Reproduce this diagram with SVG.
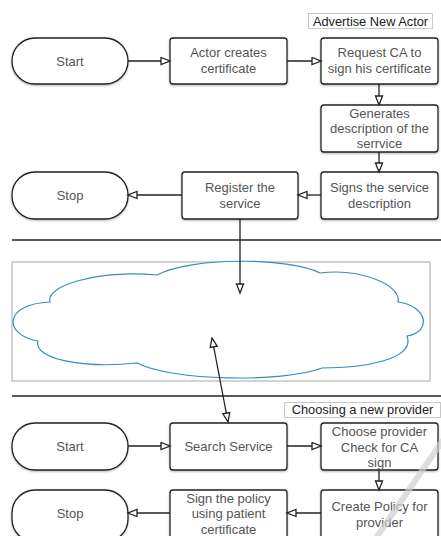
<svg xmlns="http://www.w3.org/2000/svg" width="441" height="536" viewBox="0 0 441 536">
<style>
.box{fill:#fff;stroke:#222;stroke-width:1.3;filter:url(#sh)}
.t{font-family:"Liberation Sans",Arial,sans-serif;font-size:13px;fill:#555;text-anchor:middle}
.lbl{font-family:"Liberation Sans",Arial,sans-serif;font-size:12.8px;fill:#222;text-anchor:middle}
.lblbox{fill:#fff;stroke:#c8c8c8;stroke-width:1}
.c{fill:none;stroke:#222;stroke-width:1.3}
.sep{stroke:#222;stroke-width:1.5}
</style>
<defs>
<filter id="sh" x="-10%" y="-10%" width="120%" height="130%">
<feDropShadow dx="0" dy="1" stdDeviation="1.2" flood-color="#000" flood-opacity="0.3"/>
</filter>
<marker id="ah" markerWidth="12" markerHeight="10" refX="10" refY="4.5" orient="auto" markerUnits="userSpaceOnUse">
<path d="M1,1 L10,4.5 L1,8 Z" fill="#fff" stroke="#222" stroke-width="1.3"/>
</marker>
<marker id="as" markerWidth="12" markerHeight="10" refX="1" refY="4.5" orient="auto" markerUnits="userSpaceOnUse">
<path d="M10,1 L1,4.5 L10,8 Z" fill="#fff" stroke="#222" stroke-width="1.3"/>
</marker>
</defs>
<rect width="441" height="536" fill="#fff"/>

<g id="separators">
<line class="sep" x1="12" y1="240" x2="441" y2="240"/>
<line class="sep" x1="12" y1="396" x2="441" y2="396" stroke-width="2"/>
</g>

<g id="label-advertise">
<rect class="lblbox" x="308.5" y="13.5" width="124" height="15"/>
<text class="lbl" x="370.5" y="25.5">Advertise New Actor</text>
</g>
<g id="label-choosing">
<rect class="lblbox" x="284.5" y="402.5" width="156" height="15"/>
<text class="lbl" x="362.5" y="414">Choosing a new provider</text>
</g>

<g id="cloud">
<rect x="12" y="262" width="418" height="119" fill="#fff" stroke="#c4c4c4" stroke-width="1.5"/>
<path d="M50,302 C45,285 100,270 157,275 C190,257 290,257 320,273 C360,268 402,285 398,302 C428,306 432,332 407,336 C416,360 362,368 322,368 C282,383 172,381 137,363 C80,369 33,358 38,341 C3,335 3,304 50,302 Z" fill="#fff" stroke="#3a8bb5" stroke-width="1.2"/>
</g>

<g id="n-start1"><rect class="box" x="12" y="38" width="116" height="46" rx="23"/><text class="t" x="70" y="65.5">Start</text></g>
<g id="n-actor"><rect class="box" x="170" y="38" width="117" height="46" rx="3"/><text class="t" x="228.5" y="57">Actor creates</text><text class="t" x="228.5" y="73">certificate</text></g>
<g id="n-request"><rect class="box" x="321" y="38" width="117" height="46" rx="3"/><text class="t" x="379.5" y="57">Request CA to</text><text class="t" x="379.5" y="73">sign his certificate</text></g>
<g id="n-generates"><rect class="box" x="321" y="105" width="117" height="47" rx="3"/><text class="t" x="379.5" y="117.5">Generates</text><text class="t" x="379.5" y="132.5">description of the</text><text class="t" x="379.5" y="147.5">serrvice</text></g>
<g id="n-signs"><rect class="box" x="321" y="172" width="117" height="47" rx="3"/><text class="t" x="379.5" y="192">Signs the service</text><text class="t" x="379.5" y="207.5">description</text></g>
<g id="n-register"><rect class="box" x="182" y="172" width="116" height="47" rx="3"/><text class="t" x="240" y="192">Register the</text><text class="t" x="240" y="207.5">service</text></g>
<g id="n-stop1"><rect class="box" x="12" y="172" width="116" height="47" rx="23"/><text class="t" x="70" y="200">Stop</text></g>

<g id="n-start2"><rect class="box" x="12" y="423" width="116" height="47" rx="23"/><text class="t" x="70" y="451">Start</text></g>
<g id="n-search"><rect class="box" x="170" y="423" width="117" height="47" rx="3"/><text class="t" x="228.5" y="451">Search Service</text></g>
<g id="n-choose"><rect class="box" x="321" y="423" width="117" height="47" rx="3"/><text class="t" x="379.5" y="436">Choose provider</text><text class="t" x="379.5" y="451.5">Check for CA</text><text class="t" x="379.5" y="466.5">sign</text></g>
<g id="n-create"><rect class="box" x="321" y="490" width="117" height="52" rx="3"/><text class="t" x="379.5" y="511">Create Policy for</text><text class="t" x="379.5" y="526.5">provider</text></g>
<g id="n-signpolicy"><rect class="box" x="170" y="490" width="117" height="52" rx="3"/><text class="t" x="228.5" y="502.5">Sign the policy</text><text class="t" x="228.5" y="518">using patient</text><text class="t" x="228.5" y="534">certificate</text></g>
<g id="n-stop2"><rect class="box" x="12" y="490" width="116" height="52" rx="23"/><text class="t" x="70" y="517.5">Stop</text></g>

<g id="connectors">
<line class="c" x1="128" y1="61" x2="170" y2="61" marker-end="url(#ah)"/>
<line class="c" x1="287" y1="61" x2="321" y2="61" marker-end="url(#ah)"/>
<line class="c" x1="379" y1="84" x2="379" y2="105" marker-end="url(#ah)"/>
<line class="c" x1="379" y1="152" x2="379" y2="172" marker-end="url(#ah)"/>
<line class="c" x1="321" y1="195" x2="298" y2="195" marker-end="url(#ah)"/>
<line class="c" x1="182" y1="195" x2="128" y2="195" marker-end="url(#ah)"/>
<line class="c" x1="240" y1="219" x2="240" y2="293" marker-end="url(#ah)"/>
<line class="c" x1="212" y1="338" x2="228" y2="422" marker-start="url(#as)" marker-end="url(#ah)"/>
<line class="c" x1="128" y1="446" x2="170" y2="446" marker-end="url(#ah)"/>
<line class="c" x1="287" y1="446" x2="321" y2="446" marker-end="url(#ah)"/>
<line class="c" x1="379" y1="470" x2="379" y2="490" marker-end="url(#ah)"/>
<line class="c" x1="321" y1="513" x2="287" y2="513" marker-end="url(#ah)"/>
<line class="c" x1="170" y1="513" x2="128" y2="513" marker-end="url(#ah)"/>
</g>

<line x1="372" y1="544" x2="443" y2="440" stroke="#d0d0d0" stroke-width="6" opacity="0.7"/>
</svg>
